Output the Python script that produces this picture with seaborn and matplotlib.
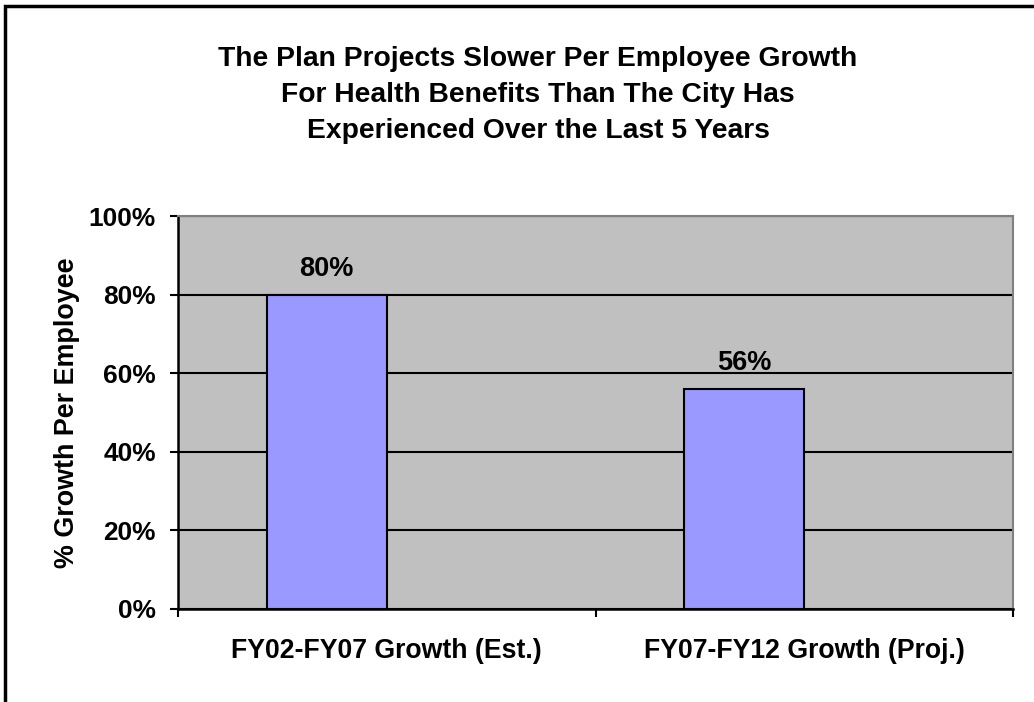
import matplotlib
matplotlib.use("Agg")
import matplotlib.pyplot as plt
import seaborn as sns
import pandas as pd
import numpy as np
from matplotlib.patches import Rectangle
from matplotlib.ticker import FuncFormatter

categories = ["FY02-FY07 Growth (Est.)", "FY07-FY12 Growth (Proj.)"]
growth = [80, 56]
series_names = ["Series1", "Series2"]
y_ticks = [0, 20, 40, 60, 80, 100]
title = ("The Plan Projects Slower Per Employee Growth\n"
         "For Health Benefits Than The City Has\n"
         "Experienced Over the Last 5 Years")
y_label = "% Growth Per Employee"

sns.set_style("white")
plt.rcParams['font.family'] = ['Liberation Sans', 'DejaVu Sans']
plt.rcParams['text.color'] = 'black'
plt.rcParams['axes.labelcolor'] = 'black'
plt.rcParams['xtick.color'] = 'black'
plt.rcParams['ytick.color'] = 'black'

rows = []
for c, v in zip(categories, growth):
    rows.append({"cat": c, "series": series_names[0], "val": v})
    rows.append({"cat": c, "series": series_names[1], "val": np.nan})
df = pd.DataFrame(rows)

fig = plt.figure(figsize=(10.34, 7.02), dpi=100)
ax = fig.add_axes([178/1034, 1-609/702, (1013-178)/1034, (609-216)/702])
ax.set_facecolor("#C0C0C0")

sns.barplot(data=df, x="cat", y="val", hue="series", hue_order=series_names,
            order=categories, palette=["#9999FF", "#9999FF"], saturation=1,
            width=0.575, dodge=True, edgecolor="black", linewidth=1.5,
            legend=False, errorbar=None, ax=ax, zorder=3)

for cont in ax.containers:
    labels = [f"{v:.0f}%" if not np.isnan(v) else "" for v in cont.datavalues]
    ax.bar_label(cont, labels=labels, padding=9, fontsize=19.5,
                 fontweight="bold", color="black")

ax.set_xlim(-0.5, 1.5)
ax.set_ylim(0, 100)
ax.set_yticks(y_ticks)
ax.yaxis.set_major_formatter(FuncFormatter(lambda v, p: f"{v:.0f}%"))
ax.yaxis.grid(True, color="black", linewidth=1.5, zorder=1)
ax.set_axisbelow(True)
ax.set_xticks([-0.5, 0.5, 1.5], minor=False)
ax.set_xticklabels(["", "", ""])
ax.set_xticks([0, 1], minor=True)
ax.set_xticklabels(categories, minor=True, fontsize=19.2, fontweight="bold")
ax.tick_params(axis="x", which="minor", length=0, pad=21)
ax.tick_params(axis="x", which="major", direction="out", length=6, width=1.5,
               color="black", bottom=True)
ax.tick_params(axis="y", direction="out", length=6, width=1.5, color="black",
               left=True, pad=10)
for lab in ax.get_yticklabels():
    lab.set_fontsize(18.9)
    lab.set_fontweight("bold")
ax.set_xlabel("")
ax.set_ylabel(y_label, fontsize=19.4, fontweight="bold", labelpad=6)

for s in ["left", "bottom"]:
    ax.spines[s].set_color("black")
    ax.spines[s].set_linewidth(1.8)
for s in ["top", "right"]:
    ax.spines[s].set_color("#808080")
    ax.spines[s].set_linewidth(1.5)

fig.text(538/1034, 1-95/702, title, ha="center", va="center", fontsize=20.3,
         fontweight="bold", linespacing=1.48, color="black")

fig.patches.append(Rectangle((5/1034, -0.02), 1.05, 1-6/702+0.02,
                             transform=fig.transFigure, fill=False,
                             edgecolor="black", linewidth=2.5))

fig.savefig("out.png", dpi=100)
